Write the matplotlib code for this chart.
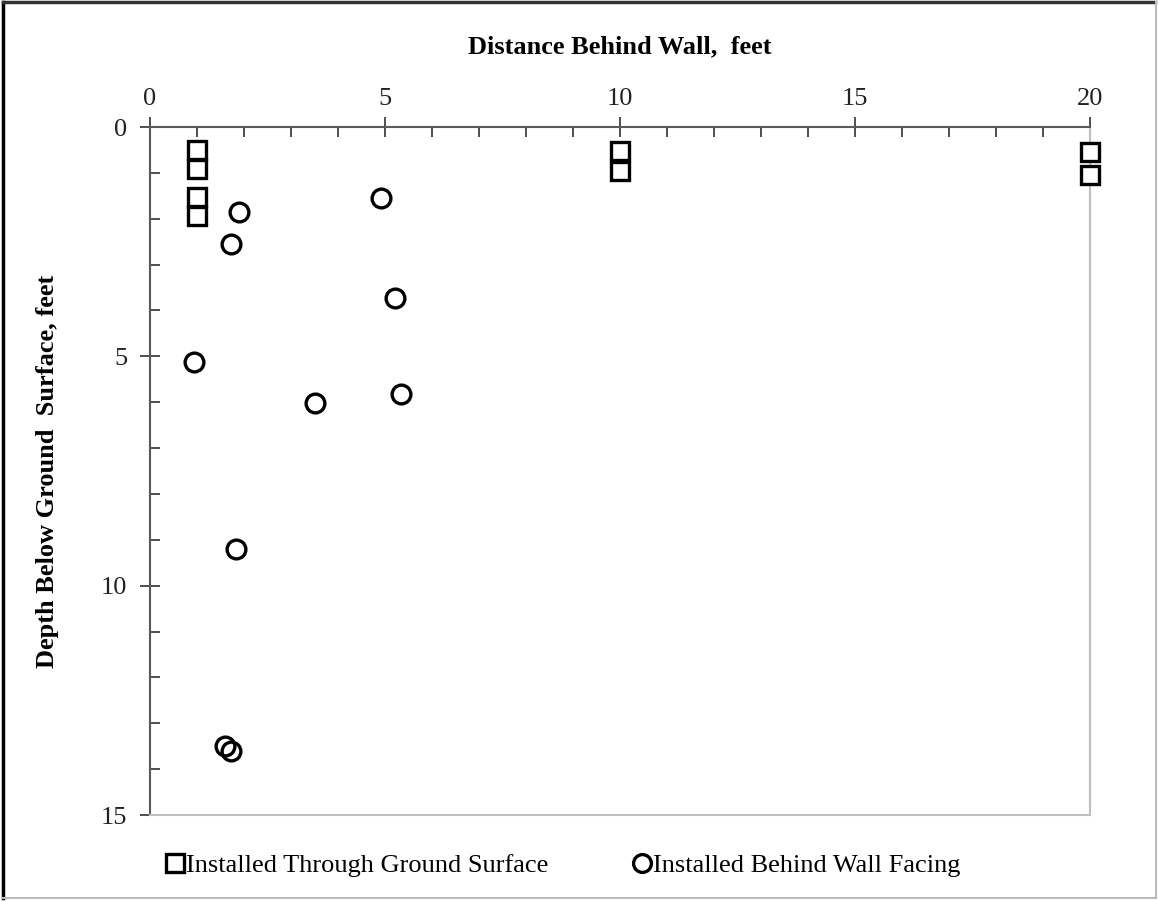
import matplotlib
matplotlib.use("Agg")
import matplotlib.pyplot as plt
from matplotlib.lines import Line2D
from matplotlib.ticker import MultipleLocator

# Data: distance behind wall (ft) and depth below ground surface (ft)
surface_x = [1.0, 1.0, 1.0, 1.0, 10.0, 10.0, 20.0, 20.0]
surface_depth = [0.5, 0.92, 1.53, 1.93, 0.53, 0.95, 0.55, 1.05]

facing_x = [1.9, 1.72, 4.91, 5.21, 0.94, 3.52, 5.33, 1.83, 1.6, 1.72]
facing_depth = [1.86, 2.54, 1.55, 3.72, 5.12, 6.01, 5.83, 9.2, 13.5, 13.6]

plt.rcParams["font.family"] = ["Liberation Serif", "DejaVu Serif"]

fig = plt.figure(figsize=(11.58, 9.01), dpi=100)
ax = fig.add_axes([150 / 1158, 1 - 815 / 901, 940 / 1158, 688 / 901])

ms = 13.5
h_sq, = ax.plot(surface_x, surface_depth, ls="none", marker="s", ms=ms,
                mfc="white", mec="black", mew=2.4,
                label="Installed Through Ground Surface", zorder=3,
                clip_on=False)
h_ci, = ax.plot(facing_x, facing_depth, ls="none", marker="o", ms=ms,
                mfc="none", mec="black", mew=2.4,
                label="Installed Behind Wall Facing", zorder=3, clip_on=False)

ax.set_xlim(0, 20)
ax.set_ylim(15, 0)
ax.xaxis.set_major_locator(MultipleLocator(5))
ax.xaxis.set_minor_locator(MultipleLocator(1))
ax.yaxis.set_major_locator(MultipleLocator(5))
ax.yaxis.set_minor_locator(MultipleLocator(1))
ax.xaxis.tick_top()
ax.xaxis.set_label_position("top")

ax.tick_params(which="major", axis="both", direction="inout", length=15,
               width=1.3, color="#404040", labelsize=19, labelcolor="#222222")
ax.tick_params(which="minor", axis="both", direction="in", length=7,
               width=1.3, color="#404040")
ax.tick_params(axis="x", pad=5)
ax.tick_params(axis="y", pad=9)

for side in ("top", "left"):
    ax.spines[side].set_color("#595959")
    ax.spines[side].set_linewidth(1.5)
for side in ("right", "bottom"):
    ax.spines[side].set_color("#bfbfbf")
    ax.spines[side].set_linewidth(1.5)

ax.set_xlabel("Distance Behind Wall,  feet", fontsize=19, fontweight="bold",
              labelpad=25)
ax.set_ylabel("Depth Below Ground  Surface, feet", fontsize=19,
              fontweight="bold", labelpad=30)

# two legend entries placed separately under the plot
leg_kw = dict(loc="center left", frameon=False, fontsize=19, handlelength=0.7,
              handletextpad=0.05, markerscale=0.95, borderpad=0,
              borderaxespad=0)
leg1 = fig.legend(handles=[h_sq], bbox_to_anchor=(166 / 1158, 1 - 865 / 901),
                  **leg_kw)
leg2 = fig.legend(handles=[h_ci], bbox_to_anchor=(633 / 1158, 1 - 865 / 901),
                  **leg_kw)

# outer frame around the whole figure
fig.add_artist(Line2D([0.003, 0.003], [0.003, 0.998], transform=fig.transFigure,
                      color="black", lw=2.5))
fig.add_artist(Line2D([0.003, 0.997], [0.998, 0.998], transform=fig.transFigure,
                      color="#333333", lw=2.5))
fig.add_artist(Line2D([0.998, 0.998], [0.003, 0.998], transform=fig.transFigure,
                      color="#bbbbbb", lw=1.5))
fig.add_artist(Line2D([0.003, 0.998], [0.003, 0.003], transform=fig.transFigure,
                      color="#bbbbbb", lw=1.5))

fig.savefig("out.png", dpi=100)
